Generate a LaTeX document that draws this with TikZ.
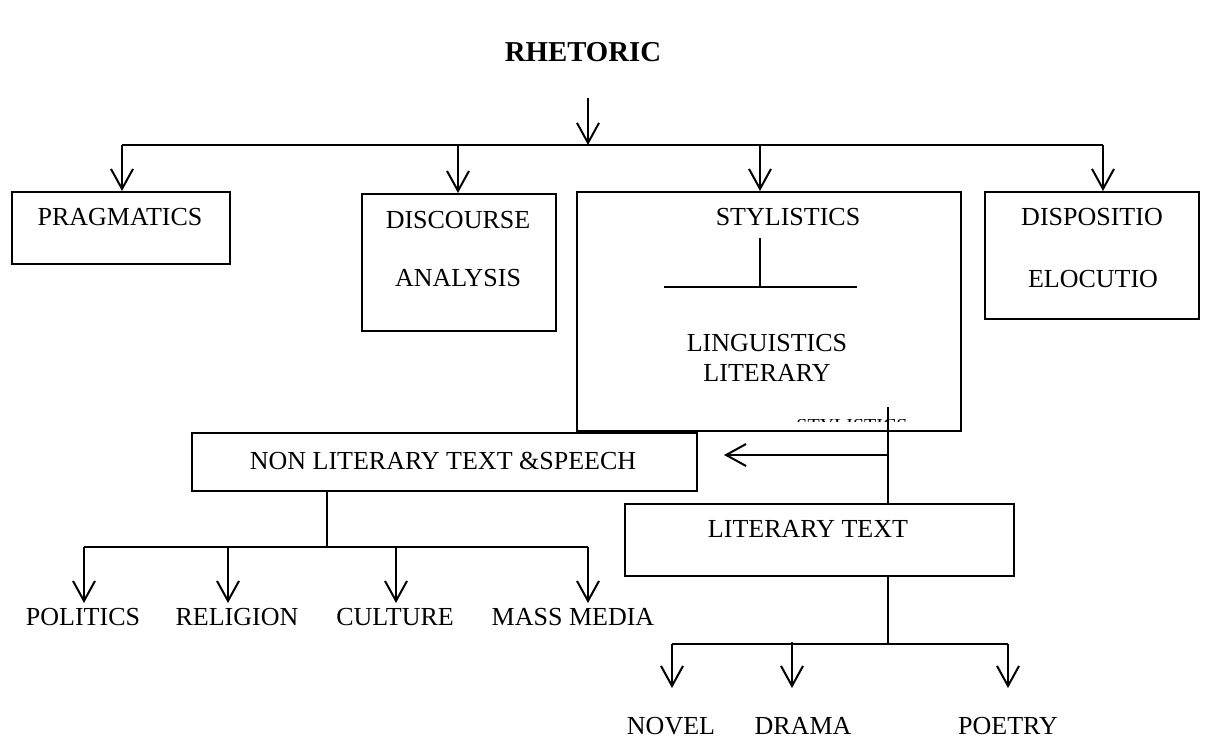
\documentclass[tikz,border=0pt]{standalone}
\usepackage{fontspec}
\setmainfont{Liberation Serif}
\usetikzlibrary{arrows.meta}
\begin{document}
\begin{tikzpicture}[x=0.5pt,y=-0.5pt,
  box/.style={draw, line width=0.9pt, inner sep=0pt, anchor=north west},
  lbl/.style={font=\fontsize{13}{15}\selectfont, inner sep=0pt, text height=8.6pt, text depth=0pt},
  ttl/.style={font=\fontsize{14.4}{17}\selectfont\bfseries, inner sep=0pt, text height=9.6pt, text depth=0pt},
  arr/.style={line width=1pt, -{Straight Barb[length=10pt,width=11pt,line width=1pt]}},
  ln/.style={line width=1pt}]
\useasboundingbox (0,0) rectangle (1209,738);

% title
\node[ttl] (title) at (583,52) {RHETORIC};

% boxes
\node[box, minimum width=109pt, minimum height=36pt] (prag) at (11,191) {};
\node[box, minimum width=97pt, minimum height=68.5pt] (disc) at (361,193) {};
\node[box, minimum width=192pt, minimum height=119.5pt] (styl) at (576,191) {};
\node[box, minimum width=107pt, minimum height=63.5pt] (disp) at (984,191) {};
\node[box, minimum width=252.5pt, minimum height=29pt] (non) at (191,432) {};
\node[box, minimum width=194.5pt, minimum height=36pt] (lit) at (624,503) {};

% box texts
\node[lbl] (tprag) at (120,217) {PRAGMATICS};
\node[lbl] (tdisc1) at (458,220) {DISCOURSE};
\node[lbl] (tdisc2) at (458,278) {ANALYSIS};
\node[lbl] (tstyl) at (788,217) {STYLISTICS};
\node[lbl] (tling) at (767,343) {LINGUISTICS};
\node[lbl] (tlitr) at (767,373) {LITERARY};
\node[lbl] (tdisp1) at (1092,217) {DISPOSITIO};
\node[lbl] (tdisp2) at (1093,279) {ELOCUTIO};
\node[lbl] (tnon) at (443,461) {NON LITERARY TEXT \&SPEECH};
\node[lbl] (tlit) at (808,529) {LITERARY TEXT};

% leaf labels
\node[lbl] (pol) at (83,617) {POLITICS};
\node[lbl] (rel) at (237,617) {RELIGION};
\node[lbl] (cul) at (395,617) {CULTURE};
\node[lbl] (mass) at (573,617) {MASS MEDIA};
\node[lbl] (nov) at (671,726) {NOVEL};
\node[lbl] (dra) at (803,726) {DRAMA};
\node[lbl] (poe) at (1008,726) {POETRY};

% clipped remnant of text
\begin{scope}
\clip (790,419.6) rectangle (915,421.2);
\node[font=\fontsize{10}{12}\selectfont, inner sep=0pt, anchor=north] (rem) at (852,419) {STYLISTICS};
\end{scope}

% top bus
\coordinate (top) at (588,98);
\coordinate (bus) at (588,145);
\coordinate (b1) at (122,145);
\coordinate (b2) at (458,145);
\coordinate (b3) at (760,145);
\coordinate (b4) at (1103,145);
\draw[arr] (top) -- (bus);
\draw[ln] (b1) -- (b4);
\draw[arr] (b1) -- (b1 |- prag.north);
\draw[arr] (b2) -- (b2 |- disc.north);
\draw[arr] (b3) -- (b3 |- styl.north);
\draw[arr] (b4) -- (b4 |- disp.north);

% inside stylistics
\coordinate (s1) at (760,238);
\coordinate (s2) at (760,287);
\coordinate (s3) at (664,287);
\coordinate (s4) at (857,287);
\draw[ln] (s1) -- (s2);
\draw[ln] (s3) -- (s4);

% right trunk
\coordinate (r1) at (888,407);
\coordinate (r2) at (888,455);
\coordinate (r3) at (724,455);
\draw[ln] (r1) -- (r1 |- lit.north);
\draw[arr] (r2) -- (r3);

% literary subtree
\coordinate (l1) at (888,644);
\coordinate (l2) at (672,644);
\coordinate (l3) at (1008,644);
\coordinate (ld) at (792,642);
\draw[ln] (l1 |- lit.south) -- (l1);
\draw[ln] (l2) -- (l3);
\draw[arr] (l2) -- (l2 |- 0,688);
\draw[arr] (ld) -- (ld |- 0,688);
\draw[arr] (l3) -- (l3 |- 0,688);

% non-literary subtree
\coordinate (n1) at (327,547);
\coordinate (n2) at (84,547);
\coordinate (n3) at (228,547);
\coordinate (n4) at (396,547);
\coordinate (n5) at (588,547);
\draw[ln] (n1 |- non.south) -- (n1);
\draw[ln] (n2) -- (n5);
\draw[arr] (n2) -- (n2 |- 0,603);
\draw[arr] (n3) -- (n3 |- 0,603);
\draw[arr] (n4) -- (n4 |- 0,603);
\draw[arr] (n5) -- (n5 |- 0,603);
\end{tikzpicture}
\end{document}
